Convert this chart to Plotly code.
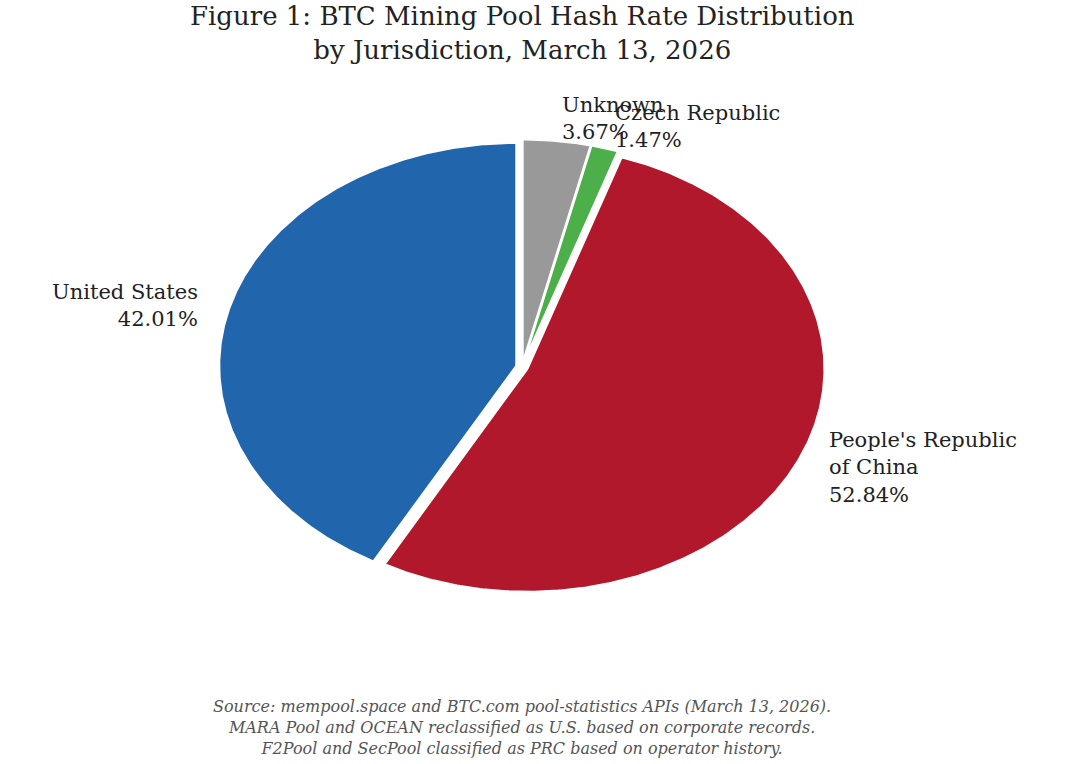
import numpy as np
import plotly.graph_objects as go

# ---- data ----
labels = ["Unknown", "Czech Republic", "People's Republic<br>of China", "United States"]
shares = [3.67, 1.47, 52.84, 42.01]
colors = ["#999999", "#4daf4a", "#b2182b", "#2166ac"]
explode = [0.02, 0.02, 0.02, 0.02]

title_text = "Figure 1: BTC Mining Pool Hash Rate Distribution<br>by Jurisdiction, March 13, 2026"
source_text = ("Source: mempool.space and BTC.com pool-statistics APIs (March 13, 2026).<br>"
               "MARA Pool and OCEAN reclassified as U.S. based on corporate records.<br>"
               "F2Pool and SecPool classified as PRC based on operator history.")

# ---- layout geometry (pixels) ----
W, H = 1078, 764
CX, CY = 522, 367      # pie centre
RX, RY = 297, 223      # horizontal / vertical radius

xr = [-CX / RX, (W - CX) / RX]
yr = [-(H - CY) / RY, CY / RY]

SERIF = "DejaVu Serif, serif"

fig = go.Figure()
annotations = []
total = sum(shares)
theta = 90.0
for lab, v, c, e in zip(labels, shares, colors, explode):
    span = 360.0 * v / total
    t0, t1 = theta, theta - span
    theta = t1
    n = max(int(span * 2), 12)
    ts = np.deg2rad(np.linspace(t0, t1, n))
    mid = np.deg2rad((t0 + t1) / 2)
    dx, dy = e * np.cos(mid), e * np.sin(mid)
    xs = np.concatenate([[dx], dx + np.cos(ts), [dx]])
    ys = np.concatenate([[dy], dy + np.sin(ts), [dy]])
    fig.add_trace(go.Scatter(
        x=xs, y=ys, mode="lines", fill="toself", fillcolor=c,
        line=dict(color="white", width=2), hoverinfo="skip", showlegend=False))
    lx = dx + 1.1 * np.cos(mid)
    ly = dy + 1.1 * np.sin(mid)
    left = np.cos(mid) >= 0
    annotations.append(dict(
        x=lx, y=ly, xref="x", yref="y", showarrow=False,
        text=f"{lab}<br>{v:.2f}%",
        xanchor="left" if left else "right", yanchor="middle",
        align="left" if left else "right",
        font=dict(family=SERIF, size=21, color="#222222")))

annotations.append(dict(
    x=CX / W, y=1 - 33 / H, xref="paper", yref="paper", showarrow=False,
    text=title_text, xanchor="center", yanchor="middle", align="center",
    font=dict(family=SERIF, size=26, color="#222222")))
annotations.append(dict(
    x=CX / W, y=1 - 727 / H, xref="paper", yref="paper", showarrow=False,
    text=source_text, xanchor="center", yanchor="middle", align="center",
    font=dict(family=SERIF, size=16, color="#555555", style="italic")))

fig.update_layout(
    width=W, height=H,
    margin=dict(l=0, r=0, t=0, b=0),
    paper_bgcolor="white", plot_bgcolor="white",
    xaxis=dict(range=xr, visible=False, fixedrange=True),
    yaxis=dict(range=yr, visible=False, fixedrange=True),
    annotations=annotations,
    showlegend=False,
)

fig.write_html("out.html")
